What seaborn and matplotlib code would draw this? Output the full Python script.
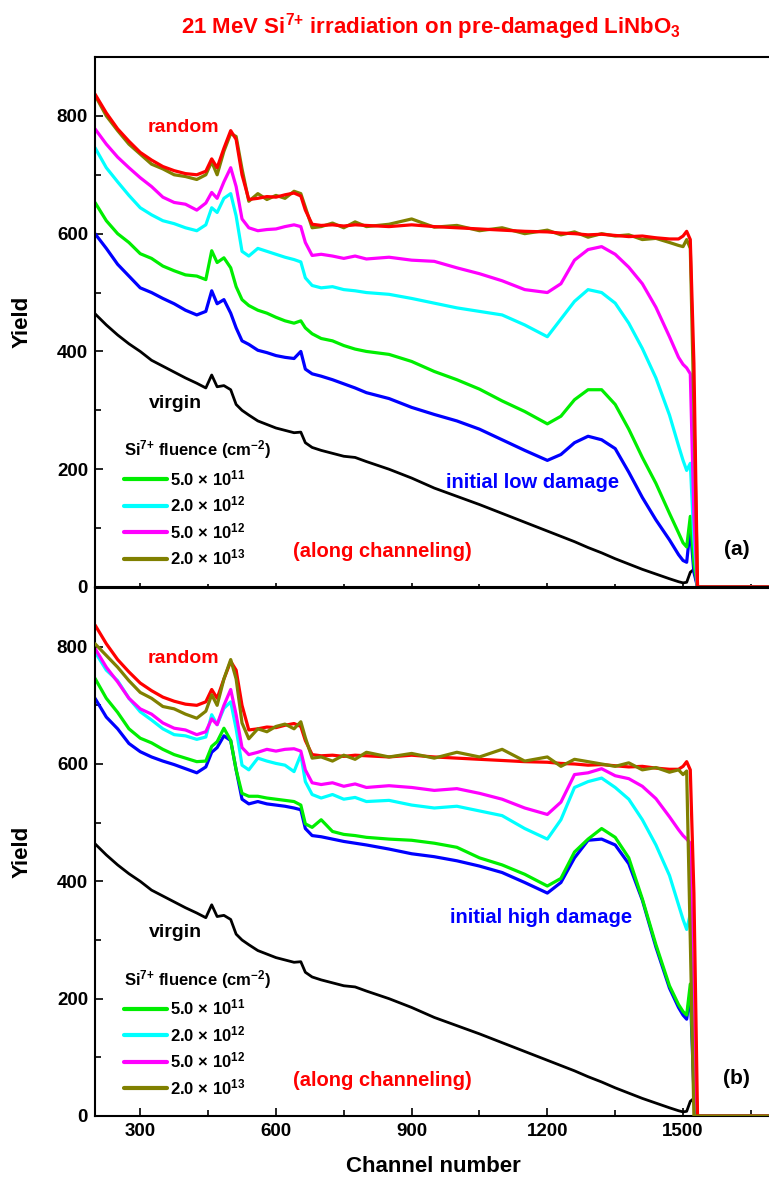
import numpy as np
import pandas as pd
import matplotlib
matplotlib.use("Agg")
import matplotlib.pyplot as plt
from matplotlib.ticker import MultipleLocator
import seaborn as sns

# %%
# 1. Data (yield vs channel)

channel = [200, 225, 250, 275, 300, 325, 350, 375, 400, 425,
           445, 458, 470, 485, 500, 512, 525, 540, 560, 580,
           600, 620, 640, 655, 665, 680, 700, 725, 750, 775,
           800, 850, 900, 950, 1000, 1050, 1100, 1150, 1200, 1230,
           1260, 1290, 1320, 1350, 1380, 1410, 1440, 1470, 1490, 1500,
           1508, 1516, 1524, 1532, 1700]

random_yield = [837, 805, 778, 757, 738, 725, 714, 707, 702, 700,
                706, 727, 712, 745, 775, 760, 700, 658, 660, 663,
                662, 666, 669, 664, 640, 616, 614, 615, 613, 615,
                614, 612, 615, 612, 610, 608, 606, 604, 603, 601,
                600, 598, 599, 597, 595, 596, 593, 591, 591, 596,
                604, 590, 380, 0, 0]

virgin_yield = [464, 445, 428, 413, 400, 385, 375, 365, 355, 346,
                338, 360, 340, 342, 335, 310, 300, 292, 282, 276,
                270, 266, 262, 263, 245, 237, 232, 227, 222, 220,
                213, 200, 185, 168, 154, 140, 125, 110, 95, 86,
                77, 67, 58, 48, 39, 30, 22, 14, 9, 7,
                8, 25, 30, 0, 0]

# panel (a): initial low damage
low_initial = [600, 575, 548, 528, 508, 500, 490, 481, 470, 462,
               468, 503, 481, 488, 465, 440, 418, 412, 402, 398,
               393, 390, 388, 400, 370, 362, 358, 352, 345, 338,
               330, 320, 305, 293, 282, 268, 250, 232, 215, 225,
               245, 256, 250, 235, 195, 152, 114, 80, 55, 45,
               42, 100, 25, 0, 0]
low_5e11 = [653, 622, 600, 585, 566, 558, 545, 537, 530, 528,
            522, 571, 551, 559, 542, 510, 488, 478, 470, 465,
            458, 452, 448, 452, 440, 430, 422, 418, 410, 404,
            400, 395, 383, 366, 352, 336, 316, 298, 277, 290,
            318, 335, 335, 310, 268, 220, 176, 125, 92, 75,
            68, 120, 40, 0, 0]
low_2e12 = [746, 712, 688, 665, 644, 632, 622, 617, 610, 605,
            615, 644, 636, 660, 668, 630, 570, 562, 575, 570,
            565, 560, 556, 552, 525, 512, 508, 510, 505, 503,
            500, 497, 490, 482, 474, 468, 462, 445, 425, 455,
            485, 505, 500, 482, 448, 405, 355, 292, 240, 215,
            198, 210, 80, 0, 0]
low_5e12 = [778, 752, 730, 712, 695, 680, 662, 653, 650, 640,
            652, 670, 660, 688, 712, 680, 625, 610, 605, 607,
            608, 612, 615, 612, 585, 563, 565, 562, 558, 562,
            557, 560, 555, 553, 542, 532, 520, 505, 500, 515,
            555, 573, 578, 565, 543, 515, 475, 425, 390, 378,
            372, 362, 120, 0, 0]
low_2e13 = [835, 800, 775, 752, 735, 718, 710, 700, 697, 692,
            700, 722, 700, 740, 770, 765, 710, 655, 668, 658,
            665, 660, 672, 668, 645, 610, 612, 618, 610, 620,
            612, 616, 625, 611, 614, 605, 610, 600, 606, 598,
            603, 594, 600, 596, 598, 590, 592, 585, 580, 578,
            590, 575, 300, 0, 0]

# panel (b): initial high damage
high_initial = [712, 680, 660, 635, 621, 612, 605, 599, 592, 585,
                595, 620, 628, 648, 640, 590, 540, 532, 536, 532,
                530, 528, 525, 522, 490, 478, 476, 472, 468, 465,
                462, 455, 447, 442, 435, 426, 415, 398, 380, 398,
                440, 470, 472, 462, 430, 368, 288, 218, 185, 172,
                165, 212, 40, 0, 0]
high_5e11 = [746, 712, 688, 660, 644, 636, 625, 616, 610, 604,
             605, 630, 638, 661, 640, 590, 550, 545, 545, 542,
             540, 538, 536, 530, 498, 492, 505, 485, 480, 478,
             475, 472, 470, 465, 458, 440, 428, 412, 392, 405,
             450, 472, 490, 475, 440, 370, 292, 222, 190, 178,
             172, 225, 60, 0, 0]
high_2e12 = [791, 760, 742, 712, 689, 675, 660, 650, 648, 642,
             646, 684, 667, 695, 706, 660, 598, 590, 610, 605,
             601, 598, 587, 616, 570, 548, 542, 548, 540, 543,
             536, 538, 530, 525, 528, 520, 512, 490, 472, 505,
             560, 570, 576, 560, 540, 505, 462, 410, 360, 335,
             318, 344, 100, 0, 0]
high_5e12 = [797, 765, 740, 712, 694, 685, 670, 661, 658, 650,
             655, 677, 667, 700, 727, 684, 628, 616, 620, 625,
             622, 625, 626, 622, 590, 568, 565, 568, 562, 566,
             560, 563, 560, 555, 558, 550, 540, 525, 514, 535,
             582, 585, 592, 580, 575, 562, 541, 510, 488, 478,
             472, 465, 100, 0, 0]
high_2e13 = [805, 785, 765, 742, 722, 712, 698, 694, 685, 678,
             690, 718, 700, 745, 778, 745, 670, 643, 660, 655,
             664, 668, 660, 672, 645, 610, 612, 605, 615, 608,
             620, 612, 618, 610, 620, 612, 625, 605, 612, 596,
             608, 604, 600, 596, 602, 590, 594, 586, 590, 582,
             588, 300, 0, 0, 0]

fluence_labels = [r"5.0 × 10$^{11}$", r"2.0 × 10$^{12}$",
                  r"5.0 × 10$^{12}$", r"2.0 × 10$^{13}$"]
fluence_colors = ["#00ee00", "#00ffff", "#ff00ff", "#808000"]

# %%
# 2. Style

sns.set_style("ticks")
plt.rcParams['font.family'] = ['Liberation Sans', 'DejaVu Sans']
plt.rcParams['font.weight'] = 'bold'
plt.rcParams['mathtext.fontset'] = 'custom'
plt.rcParams['mathtext.rm'] = 'Liberation Sans:bold'
plt.rcParams['mathtext.it'] = 'Liberation Sans:bold'
plt.rcParams['mathtext.bf'] = 'Liberation Sans:bold'
plt.rcParams['mathtext.default'] = 'rm'
for key in ['text.color', 'axes.labelcolor', 'xtick.color', 'ytick.color', 'axes.edgecolor']:
    plt.rcParams[key] = 'black'

W, H = 769, 1184
fig = plt.figure(figsize=(W / 100, H / 100), dpi=100)
ax_a = fig.add_axes([95 / W, 1 - 587 / H, 674 / W, 530 / H])
ax_b = fig.add_axes([95 / W, 1 - 1116 / H, 674 / W, 528 / H])

panels = [
    (ax_a, [low_initial, low_5e11, low_2e12, low_5e12, low_2e13], "(a)"),
    (ax_b, [high_initial, high_5e11, high_2e12, high_5e12, high_2e13], "(b)"),
]

# %%
# 3. Draw both panels

for ax, series, tag in panels:
    sns.lineplot(x=channel, y=virgin_yield, color="black", lw=2, ax=ax)
    sns.lineplot(x=channel, y=series[0], color="#0000ff", lw=2.3, ax=ax)
    for vals, col, lab in zip(series[1:], fluence_colors, fluence_labels):
        sns.lineplot(x=channel, y=vals, color=col, lw=2.3, ax=ax, label=lab)
    sns.lineplot(x=channel, y=random_yield, color="#ff0000", lw=2.3, ax=ax)
    if tag == "(b)":
        # olive curve sits on top of random in the lower panel
        ax.lines[-2].set_zorder(3)

    ax.set_xlim(200, 1690)
    ax.set_ylim(0, 900)
    ax.xaxis.set_major_locator(MultipleLocator(300))
    ax.xaxis.set_minor_locator(MultipleLocator(150))
    ax.yaxis.set_major_locator(MultipleLocator(200))
    ax.yaxis.set_minor_locator(MultipleLocator(100))
    ax.set_yticks([0, 200, 400, 600, 800])
    ax.tick_params(which='major', direction='in', length=6, width=1.2, labelsize=13.5, pad=5)
    ax.tick_params(which='minor', direction='in', length=4, width=1.2)
    ax.spines['right'].set_visible(False)
    for s in ['left', 'top', 'bottom']:
        ax.spines[s].set_linewidth(1.5)
    ax.set_xlabel("")
    ax.set_ylabel("")

    leg = ax.legend(title=r"Si$^{7{+}}$ fluence (cm$^{-2}$)", loc="upper left",
                    bbox_to_anchor=(0.03, 0.296), frameon=False, fontsize=12,
                    title_fontsize=12, handlelength=2.6, handletextpad=0.2,
                    labelspacing=0.4, borderpad=0, alignment="left")
    for line in leg.get_lines():
        line.set_linewidth(3)

    ax.text(395, 780, "random", color="#ff0000", fontsize=14, weight="bold", ha="center", va="center")
    ax.text(377, 312, "virgin", color="black", fontsize=14, weight="bold", ha="center", va="center")
    ax.text(836, 60, "(along channeling)", color="#ff0000", fontsize=14.5, weight="bold", ha="center", va="center")
    ax.text(1618, 64, tag, color="black", fontsize=15, weight="bold", ha="center", va="center")

ax_a.text(1167, 178, "initial low damage", color="#0000ff", fontsize=14.5, weight="bold", ha="center", va="center")
ax_b.text(1187, 339, "initial high damage", color="#0000ff", fontsize=14.5, weight="bold", ha="center", va="center")

ax_a.tick_params(axis='x', which='both', labelbottom=False, direction='inout')
ax_b.tick_params(axis='x', which='both', top=False)

fig.text(431 / W, 1 - 27 / H, r"21 MeV Si$^{7{+}}$ irradiation on pre-damaged LiNbO$_3$",
         color="#ff0000", fontsize=16, weight="bold", ha="center", va="center")
fig.text(22 / W, 1 - 322 / H, "Yield", rotation=90, fontsize=16, weight="bold", ha="center", va="center")
fig.text(22 / W, 1 - 852 / H, "Yield", rotation=90, fontsize=16, weight="bold", ha="center", va="center")
fig.text(433 / W, 1 - 1167 / H, "Channel number", fontsize=16, weight="bold", ha="center", va="center")

fig.savefig("out.png", dpi=100)
